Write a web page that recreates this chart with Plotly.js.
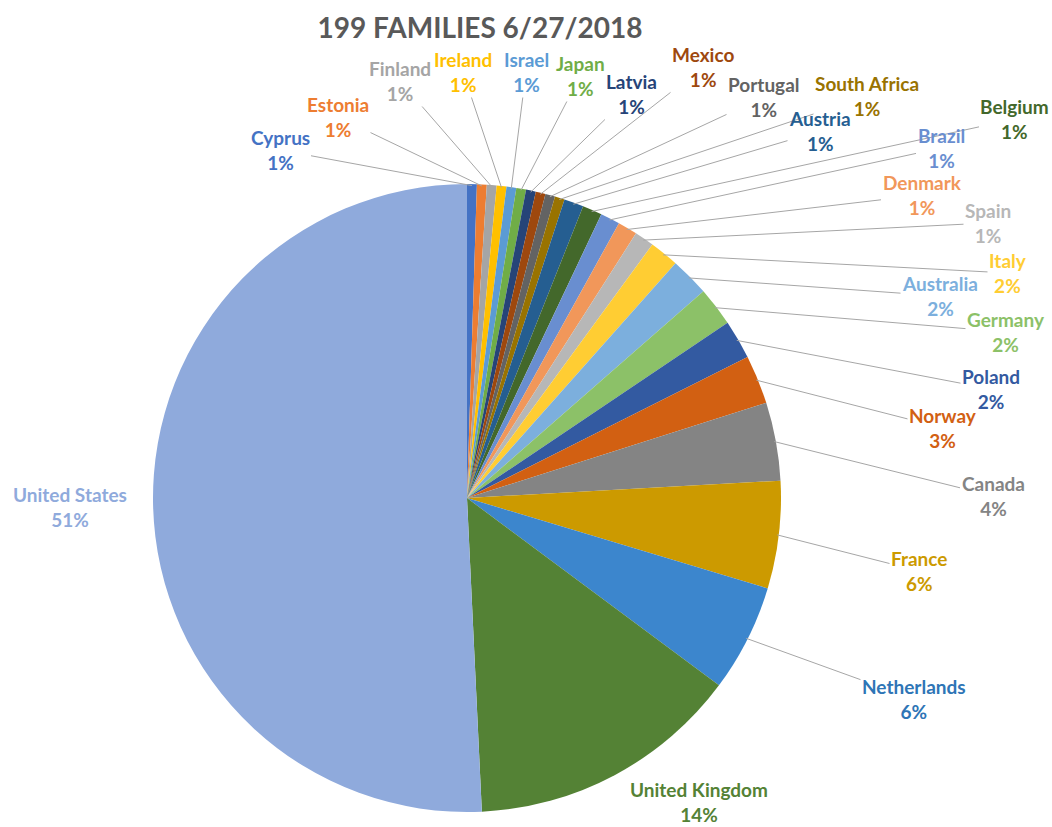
<!DOCTYPE html>
<html>
<head>
<meta charset="utf-8">
<script src="https://cdn.plot.ly/plotly-3.0.1.min.js"></script>
<style>html,body{margin:0;padding:0;background:#fff;}#chart{width:1052px;height:827px;}</style>
</head>
<body>
<div id="chart"></div>
<script>
// ---- data ----
const countries = ["Cyprus","Estonia","Finland","Ireland","Israel","Japan","Latvia","Mexico","Portugal","South Africa","Austria","Belgium","Brazil","Denmark","Spain","Italy","Australia","Germany","Poland","Norway","Canada","France","Netherlands","United Kingdom","United States"];
const families = [1,1,1,1,1,1,1,1,1,1,2,2,2,2,2,3,4,4,4,5,8,11,11,28,101];
const chartTitle = "199 FAMILIES 6/27/2018";

// ---- styles ----
const sliceColors = ["#4472C4","#ED7D31","#A5A5A5","#FFC000","#5B9BD5","#70AD47","#264478","#9E480E","#636363","#997300","#255E91","#43682B","#698ED0","#F1975A","#B7B7B7","#FFCD33","#7CAFDD","#8CC168","#335AA1","#D26012","#848484","#CC9A00","#3C86CD","#548235","#8FAADC"];
const textColors = ["#4472C4","#ED7D31","#A5A5A5","#FFC000","#5B9BD5","#70AD47","#264478","#9E480E","#636363","#997300","#255E91","#43682B","#698ED0","#F1975A","#B7B7B7","#FFCD33","#7CAFDD","#8CC168","#335AA1","#D26012","#848484","#CC9A00","#2E75B6","#548235","#8FAADC"];
// label block centres in page pixels
const labelPos = [[280,150],[338,117],[400,81],[463,72],[526,72],[580,76],[631,94],[703,67],[764,97],[867,96],[820,131],[1015,119],[941,148],[922,195],[988,223],[1008,273],[940,296],[1006,332],[991,389],[943,428],[993,496],[919,571],[914,699],[699,802],[70,507]];
const noLeader = ["United Kingdom","United States"];

const W = 1052, H = 827;
const cx = 467, cy = 498, R = 314;

const total = families.reduce((a,b)=>a+b,0);
const annotations = [];
let cum = 0;
families.forEach((v,i)=>{
  const mid = (cum + v/2)/total * 2*Math.PI;
  cum += v;
  const hx = cx + R*0.995*Math.sin(mid);
  const hy = cy - R*0.995*Math.cos(mid);
  const pct = Math.round(v/total*100) + "%";
  const [lx, ly] = labelPos[i];
  const txt = countries[i] + "<br>" + pct;
  const font = {family:"Lato, 'Open Sans', sans-serif", size:19, color:textColors[i], weight:700};
  if (noLeader.includes(countries[i])) {
    annotations.push({xref:"paper", yref:"paper", x:lx/W, y:1-ly/H, text:txt, showarrow:false, font, xanchor:"center", yanchor:"middle", align:"center"});
  } else {
    annotations.push({xref:"paper", yref:"paper", x:hx/W, y:1-hy/H, ax:lx-hx, ay:ly-hy, axref:"pixel", ayref:"pixel",
      text:txt, showarrow:true, arrowhead:0, arrowwidth:1, arrowcolor:"#A6A6A6", standoff:0, startstandoff:0,
      font, align:"center"});
  }
});

const data = [{
  type:"pie", labels:countries, values:families, sort:false, direction:"clockwise", rotation:0,
  marker:{colors:sliceColors, line:{width:0}}, textinfo:"none", hoverinfo:"label+percent",
  domain:{x:[(cx-R)/W,(cx+R)/W], y:[1-(cy+R)/H, 1-(cy-R)/H]}
}];

const layout = {
  width:W, height:H, margin:{l:0,r:0,t:0,b:0}, showlegend:false, paper_bgcolor:"#fff",
  title:{text:chartTitle, x:480/W, xanchor:"center", y:1-28/H, yanchor:"middle", yref:"container",
    font:{family:"Lato, 'Open Sans', sans-serif", size:28, color:"#595959", weight:700}},
  annotations
};
Plotly.newPlot("chart", data, layout, {displayModeBar:false, staticPlot:true});
</script>
</body>
</html>
